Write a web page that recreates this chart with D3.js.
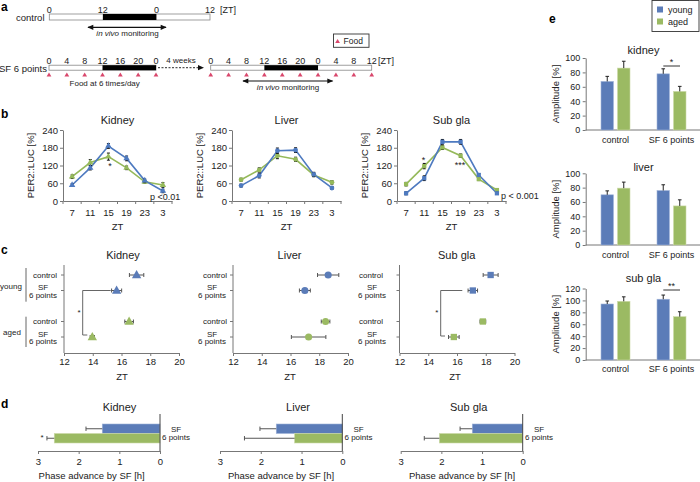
<!DOCTYPE html>
<html><head><meta charset="utf-8">
<script src="https://cdn.jsdelivr.net/npm/d3@7"></script>
<style>body{margin:0;background:#fff} svg{display:block} text{font-family:"Liberation Sans",Arial,Helvetica,sans-serif}</style>
</head><body><svg id="c" width="700" height="482"></svg>
<script>
// ---------- DATA ----------
// panel a
const controlTicks = ["0","12","0","12"];
const controlHours = [0,12,24,36];
const sfTicks1 = ["0","4","8","12","16","20","0"];
const sfHours1 = [0,4,8,12,16,20,24];
const sfTicks2 = ["0","4","8","12","16","20","0","4","8","12"];
const sfHours2 = [0,4,8,12,16,20,24,28,32,36];
// panel b
const ztLabels = ["7","11","15","19","23","3"];
const organsB = ["Kidney","Liver","Sub gla"];
const kidneyYoung = [54,112,186,144,69,34], kidneyAged = [82,130,150,112,65,54];
const kidneyYoungErr = [4,7,8,8,5,6], kidneyAgedErr = [6,10,12,6,5,8];
const liverYoung = [52,86,170,172,90,44], liverAged = [72,105,153,141,88,63];
const liverYoungErr = [5,8,9,8,7,5], liverAgedErr = [5,7,10,7,6,6];
const subYoung = [26,77,200,200,88,26], subAged = [57,118,181,153,74,37];
const subYoungErr = [5,8,8,8,5,4], subAgedErr = [6,9,7,6,5,4];
const yTicksB = [0,60,120,180,240];
const pLabels = ["p <0.01","","p < 0.001"];
// panel c
const phaseRowLabels = ["control","SF 6 points","control","SF 6 points"];
const phaseKidney = [17.05,15.66,16.53,13.97], phaseKidneyErr = [0.5,0.35,0.3,0.15];
const phaseLiver = [18.62,17.0,18.44,17.26], phaseLiverErr = [0.74,0.38,0.3,1.2];
const phaseSub = [18.34,17.1,17.8,15.78], phaseSubErr = [0.52,0.33,0.2,0.37];
const ztTicksC = [12,14,16,18,20];
// panel d
const advYoung = [1.42,1.62,1.24], advYoungErr = [0.4,0.4,0.3];
const advAged = [2.6,1.17,2.05], advAgedErr = [0.18,1.23,0.37];
const advTicks = [3,2,1,0];
// panel e
const ampGroups = ["control","SF 6 points"];
const ampOrgans = ["kidney","liver","sub gla"];
const ampYoung = [[67.5,78],[70,76],[94,102]];
const ampYoungErr = [[7,7],[5.5,8],[5,7]];
const ampAged = [[86,53.6],[79.3,54.5],[98.5,72.7]];
const ampAgedErr = [[9.5,7],[8.4,8.5],[7.5,8.3]];
const ampMax = [100,100,120];
const ampTicks = [[0,20,40,60,80,100],[0,20,40,60,80,100],[0,20,40,60,80,100,120]];

// ---------- HELPERS ----------
const BLUE = "#5b7cb8", GREEN = "#9bba63", LBLUE = "#4e7ac0", LGREEN = "#95b95a";
const AX = "#777", TX = "#222", PINK = "#d9476c";
const svg = d3.select("#c");
function T(x,y,s,o={}){
  const t = svg.append("text").attr("x",x).attr("y",y).text(s)
    .attr("font-size",o.size||9).attr("text-anchor",o.anchor||"start").attr("fill",o.fill||TX);
  if(o.weight) t.attr("font-weight",o.weight);
  if(o.style) t.attr("font-style",o.style);
  if(o.rotate!==undefined) t.attr("transform",`rotate(${o.rotate},${x},${y})`);
  return t;
}
function L(x1,y1,x2,y2,c=AX,w=1,dash){
  const l = svg.append("line").attr("x1",x1).attr("y1",y1).attr("x2",x2).attr("y2",y2).attr("stroke",c).attr("stroke-width",w);
  if(dash) l.attr("stroke-dasharray",dash);
  return l;
}
function styleAxis(g,size){
  g.select(".domain").attr("stroke",AX);
  g.selectAll(".tick line").attr("stroke",AX);
  g.selectAll(".tick text").attr("font-size",size).attr("fill",TX)
    .attr("font-family",'"Liberation Sans",Arial,Helvetica,sans-serif');
}
function arrowHead(x,y,dir){ // dir -1 = pointing left, 1 = right
  svg.append("path").attr("d",`M${x},${y} L${x-dir*6},${y-2.6} L${x-dir*6},${y+2.6} Z`).attr("fill","#111");
}
function tri(x,y){ svg.append("path").attr("d",`M${x},${y-2} L${x+2.4},${y+2} L${x-2.4},${y+2} Z`).attr("fill",PINK); }

// panel letters
[["a",1,10.5],["b",1,118],["c",1,254],["d",1,408],["e",549,23]].forEach(d=>T(d[1],d[2],d[0],{size:12,weight:"bold",fill:"#000"}));

// ---------- PANEL A ----------
{
  const xc = d3.scaleLinear().domain([0,36]).range([49.3,210]);
  svg.append("rect").attr("x",xc(0)).attr("y",14).attr("width",xc(36)-xc(0)).attr("height",6).attr("fill","#fff").attr("stroke","#888").attr("stroke-width",0.8);
  svg.append("rect").attr("x",xc(12)).attr("y",14).attr("width",xc(24)-xc(12)).attr("height",6).attr("fill","#000");
  controlHours.forEach((h,i)=>T(xc(h),13,controlTicks[i],{size:9,anchor:"middle"}));
  T(220,13,"[ZT]",{size:9});
  T(44.5,20.5,"control",{size:9.5,anchor:"end"});
  L(88,27.3,166,27.3,"#111",1.2); arrowHead(87.3,27.3,-1); arrowHead(166.7,27.3,1);
  const t1 = T(127.5,36,"",{size:8,anchor:"middle"});
  t1.append("tspan").attr("font-style","italic").text("in vivo");
  t1.append("tspan").text(" monitoring");

  const x1 = d3.scaleLinear().domain([0,24]).range([49,156]);
  svg.append("rect").attr("x",x1(0)).attr("y",65.2).attr("width",x1(24)-x1(0)).attr("height",5).attr("fill","#fff").attr("stroke","#888").attr("stroke-width",0.8);
  svg.append("rect").attr("x",x1(12)).attr("y",65.2).attr("width",x1(24)-x1(12)).attr("height",5).attr("fill","#000");
  sfHours1.forEach((h,i)=>{T(x1(h),64,sfTicks1[i],{size:9,anchor:"middle"}); tri(x1(h),74.5);});
  T(47,72,"SF 6 points",{size:9.5,anchor:"end"});
  T(104.7,85.5,"Food at 6 times/day",{size:8,anchor:"middle"});
  L(158,67.7,199,67.7,"#555",1.2,"2,1.5"); arrowHead(204,67.7,1);
  T(181,62.5,"4 weeks",{size:8,anchor:"middle"});

  const x2 = d3.scaleLinear().domain([0,36]).range([210.7,371.7]);
  svg.append("rect").attr("x",x2(0)).attr("y",65.2).attr("width",x2(36)-x2(0)).attr("height",5).attr("fill","#fff").attr("stroke","#888").attr("stroke-width",0.8);
  svg.append("rect").attr("x",x2(12)).attr("y",65.2).attr("width",x2(24)-x2(12)).attr("height",5).attr("fill","#000");
  sfHours2.forEach((h,i)=>{T(x2(h),64,sfTicks2[i],{size:9,anchor:"middle"}); tri(x2(h),74.5);});
  T(378,64,"[ZT]",{size:9});
  L(243,81,332.5,81,"#111",1.2); arrowHead(242.3,81,-1); arrowHead(333.3,81,1);
  const t2 = T(288,89.7,"",{size:8,anchor:"middle"});
  t2.append("tspan").attr("font-style","italic").text("in vivo");
  t2.append("tspan").text(" monitoring");

  svg.append("rect").attr("x",333.5).attr("y",34).attr("width",35.5).attr("height",13.3).attr("fill","#fff").attr("stroke","#333").attr("stroke-width",0.9);
  tri(337.6,41); T(343.5,44.2,"Food",{size:8.5});
}

// ---------- PANEL B ----------
{
  const bOff = [0,169,334];
  const series = [[kidneyYoung,kidneyAged],[liverYoung,liverAged],[subYoung,subAged]];
  const errs = [[kidneyYoungErr,kidneyAgedErr],[liverYoungErr,liverAgedErr],[subYoungErr,subAgedErr]];
  const shapes = [d3.symbolTriangle,d3.symbolCircle,d3.symbolSquare];
  const y = d3.scaleLinear().domain([0,240]).range([201,130]);
  bOff.forEach((o,i)=>{
    const x = d3.scaleBand().domain(ztLabels).range([63+o,172+o]);
    const bw = x.bandwidth();
    const gy = svg.append("g").attr("transform",`translate(${63+o},0)`)
      .call(d3.axisLeft(y).tickValues(yTicksB).tickSize(3).tickPadding(2).tickSizeOuter(0));
    styleAxis(gy,9.5);
    const gx = svg.append("g").attr("transform","translate(0,201)")
      .call(d3.axisBottom(x).tickSize(0).tickPadding(8).tickSizeOuter(0));
    styleAxis(gx,9.5);
    ztLabels.forEach(z=>L(x(z)+bw,201,x(z)+bw,204));
    L(x(ztLabels[0]),201,x(ztLabels[0]),204);
    T(117.5+o,124,organsB[i],{size:11,anchor:"middle"});
    T(34+o,165.5,"PER2::LUC [%]",{size:9.5,anchor:"middle",rotate:-90});
    T(117.5+o,229.5,"ZT",{size:9.5,anchor:"middle"});
    const cols = [LBLUE,LGREEN];
    [1,0].forEach(s=>{
      const vals = series[i][s];
      const line = d3.line().x((d,k)=>x(ztLabels[k])+bw/2).y(d=>y(d));
      svg.append("path").attr("d",line(vals)).attr("fill","none").attr("stroke",cols[s]).attr("stroke-width",1.6);
    });
    [1,0].forEach(s=>{
      const vals = series[i][s], er = errs[i][s];
      vals.forEach((v,k)=>{
        const cx = x(ztLabels[k])+bw/2;
        L(cx,y(v-er[k]),cx,y(v+er[k]),"#111",1);
        L(cx-1.5,y(v-er[k]),cx+1.5,y(v-er[k]),"#111",1);
        L(cx-1.5,y(v+er[k]),cx+1.5,y(v+er[k]),"#111",1);
        svg.append("path").attr("transform",`translate(${cx},${y(v)})`)
          .attr("d",d3.symbol().type(shapes[i]).size(18)()).attr("fill",cols[s]);
      });
    });
    if(pLabels[i]) T(i===0?150+o:501,i===0?200:198.5,pLabels[i],{size:9});
  });
  T(110,169,"*",{size:9,anchor:"middle"});
  T(423.5,163,"*",{size:9,anchor:"middle"});
  T(460,168,"***",{size:9,anchor:"middle"});
}

// ---------- PANEL C ----------
{
  const cX0 = [64,233,399.5];
  const rowY = d3.scalePoint().domain([0,1,2,3,4]).range([275,337]);
  const slots = [0,1,3,4];
  const data = [[phaseKidney,phaseKidneyErr],[phaseLiver,phaseLiverErr],[phaseSub,phaseSubErr]];
  const shapes = [d3.symbolTriangle,d3.symbolCircle,d3.symbolSquare];
  const sizes = [38,40,40];
  const ctrlRight = [57,227,383], sfCenter = [43,212,372];
  const titleX = [123,289.5,456.7], ztX = [122,290,455];
  cX0.forEach((x0,i)=>{
    const x = d3.scaleLinear().domain([12,20]).range([x0,x0+115]);
    const gx = svg.append("g").attr("transform","translate(0,353)")
      .call(d3.axisBottom(x).tickValues(ztTicksC).tickSize(3).tickPadding(2.6).tickSizeOuter(0));
    styleAxis(gx,9.5);
    L(x0,265,x0,353);
    slots.forEach((s,k)=>{
      const yy = rowY(s);
      L(x0-3,yy,x0,yy);
      if(k%2===0) T(ctrlRight[i],yy+2.8,phaseRowLabels[k],{size:8,anchor:"end"});
      else { T(sfCenter[i],yy-0.5,"SF",{size:8,anchor:"middle"}); T(sfCenter[i],yy+7.3,"6 points",{size:8,anchor:"middle"}); }
    });
    T(titleX[i],259,organsB[i],{size:11,anchor:"middle"});
    T(ztX[i],379.5,"ZT",{size:9.5,anchor:"middle"});
    const [vals,er] = data[i];
    vals.forEach((v,k)=>{
      const yy = rowY(slots[k]);
      L(x(v-er[k]),yy,x(v+er[k]),yy,"#555",1);
      L(x(v-er[k]),yy-2,x(v-er[k]),yy+2,"#555",1);
      L(x(v+er[k]),yy-2,x(v+er[k]),yy+2,"#555",1);
      svg.append("path").attr("transform",`translate(${x(v)},${yy+(i===0?0.5:0)})`)
        .attr("d",d3.symbol().type(shapes[i]).size(sizes[i])()).attr("fill",k<2?BLUE:GREEN);
    });
  });
  // group labels
  T(11,288.5,"young",{size:8,anchor:"middle"}); L(26,268,26,301.7,"#555",0.9);
  T(12,334.5,"aged",{size:8,anchor:"middle"}); L(26,316.7,26,347,"#555",0.9);
  // brackets
  const b1 = rowY(1), b2 = rowY(4);
  L(82.7,b1,110.7,b1,"#555",0.9); L(82.7,b1,82.7,b2-2,"#555",0.9); L(82.7,b2-2,87.3,b2-2,"#555",0.9);
  T(79,315,"*",{size:8,anchor:"middle"});
  L(440.7,b1,462.3,b1,"#555",0.9); L(440.7,b1,440.7,b2-1,"#555",0.9); L(440.7,b2-1,445,b2-1,"#555",0.9);
  T(436.7,315,"*",{size:8,anchor:"middle"});
}

// ---------- PANEL D ----------
{
  const ranges = [[38,160],[220,342.3],[400.7,522.7]];
  const titleX = [119.5,298,468.7], labX = [91.7,281,462], sfX = [176,358.5,539];
  const yb = d3.scaleBand().domain(["young","aged"]).range([424,443]);
  ranges.forEach((r,i)=>{
    const x = d3.scaleLinear().domain([3,0]).range(r);
    const gx = svg.append("g").attr("transform","translate(0,451)")
      .call(d3.axisBottom(x).tickValues(advTicks).tickFormat(d3.format("d")).tickSize(3).tickPadding(4.5).tickSizeOuter(0));
    styleAxis(gx,9.5);
    const vals = [[advYoung[i],advYoungErr[i],BLUE,"young"],[advAged[i],advAgedErr[i],GREEN,"aged"]];
    vals.forEach(([v,e,c,k])=>{
      svg.append("rect").attr("x",x(v)).attr("y",yb(k)).attr("width",x(0)-x(v)).attr("height",yb.bandwidth())
        .attr("fill",c).attr("stroke",k==="young"?"#9fb3d8":"#cbd9a8").attr("stroke-width",0.6);
      const cy = yb(k)+yb.bandwidth()/2;
      L(x(v+e),cy,x(v),cy,"#555",1);
      L(x(v+e),cy-2.2,x(v+e),cy+2.2,"#555",1);
    });
    L(x(0),414,x(0),451,"#444",1);
    T(titleX[i],411,organsB[i],{size:11,anchor:"middle"});
    T(labX[i],479,"Phase advance by SF [h]",{size:9.5,anchor:"middle"});
    T(sfX[i],431.5,"SF",{size:8,anchor:"middle"});
    T(sfX[i],439.5,"6 points",{size:8,anchor:"middle"});
  });
  T(42,440,"*",{size:8,anchor:"middle"});
}

// ---------- PANEL E ----------
{
  const axX = 585.7;
  const yr = [[130,58],[245,173.3],[360,288.5]];
  const titleY = [54,170.5,282], labY = [143,257.5,371.5];
  const xg = d3.scaleBand().domain(ampGroups).range([587.5,699.5]);
  const xs = d3.scaleBand().domain(["young","aged"]).range([0,xg.bandwidth()]).paddingInner(0.2424).paddingOuter(0.818);
  ampOrgans.forEach((org,i)=>{
    const y = d3.scaleLinear().domain([0,ampMax[i]]).range(yr[i]);
    const gy = svg.append("g").attr("transform",`translate(${axX},0)`)
      .call(d3.axisLeft(y).tickValues(ampTicks[i]).tickSize(3).tickPadding(2.5).tickSizeOuter(0));
    styleAxis(gy,9);
    L(axX,y(0),700,y(0),AX,1);
    T(643.5,titleY[i],org,{size:11,anchor:"middle"});
    T(559.3,(yr[i][0]+yr[i][1])/2,"Amplitude [%]",{size:9.5,anchor:"middle",rotate:-90});
    ampGroups.forEach((g,j)=>{
      T(xg(g)+xg.bandwidth()/2,labY[i],g,{size:9,anchor:"middle"});
      [["young",ampYoung[i][j],ampYoungErr[i][j],BLUE,"#a3b6da"],["aged",ampAged[i][j],ampAgedErr[i][j],GREEN,"#cddaa9"]].forEach(([k,v,e,c,sc])=>{
        const bx = xg(g)+xs(k);
        svg.append("rect").attr("x",bx).attr("y",y(v)).attr("width",xs.bandwidth()).attr("height",y(0)-y(v))
          .attr("fill",c).attr("stroke",sc).attr("stroke-width",0.6);
        const cx = bx+xs.bandwidth()/2;
        L(cx,y(v),cx,y(v+e),"#222",1);
        L(cx-1.8,y(v+e),cx+1.8,y(v+e),"#222",1);
      });
    });
  });
  L(663.3,66,680,66,"#333",1); T(671.5,65,"*",{size:9,anchor:"middle"});
  L(663.3,290,680,290,"#333",1); T(671.5,289,"**",{size:9,anchor:"middle"});
  // legend
  svg.append("rect").attr("x",652).attr("y",0.5).attr("width",47).attr("height",31).attr("fill","#fff").attr("stroke","#333").attr("stroke-width",0.9);
  svg.append("rect").attr("x",657).attr("y",6.5).attr("width",6).attr("height",6).attr("fill",BLUE);
  svg.append("rect").attr("x",657).attr("y",18.5).attr("width",6).attr("height",6).attr("fill",GREEN);
  T(668,13,"young",{size:9});
  T(668,25,"aged",{size:9});
}
</script></body></html>
